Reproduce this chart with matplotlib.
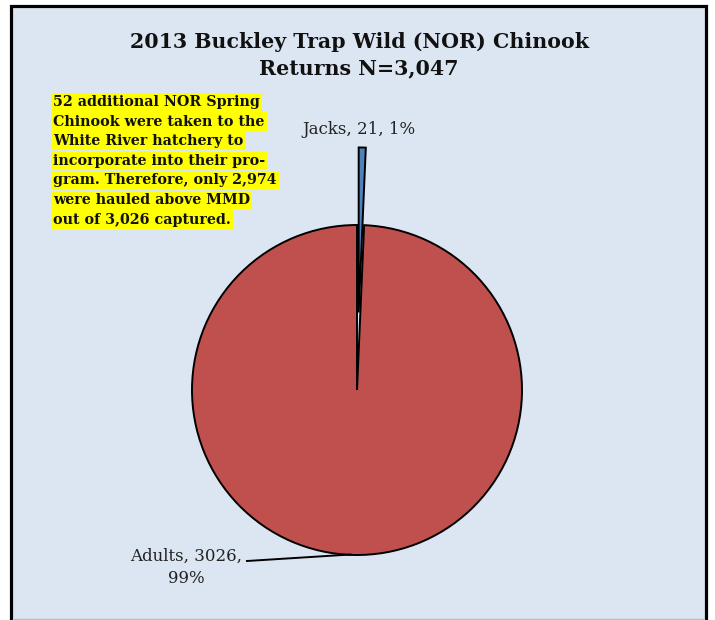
import numpy as np
import matplotlib.pyplot as plt
from matplotlib.patches import Rectangle
from matplotlib.lines import Line2D

categories = ["Jacks", "Adults"]
counts = [21, 3026]
colors = ["#4f81bd", "#c0504d"]
explode = [0.47, 0.0]
title = "2013 Buckley Trap Wild (NOR) Chinook\nReturns N=3,047"
note_lines = [
    "52 additional NOR Spring",
    "Chinook were taken to the",
    "White River hatchery to",
    "incorporate into their pro-",
    "gram. Therefore, only 2,974",
    "were hauled above MMD",
    "out of 3,026 captured.",
]

W, H = 715, 620
bg = "#dce6f2"
fig = plt.figure(figsize=(W / 100, H / 100), dpi=100)
fig.patch.set_facecolor("white")


def px(x, y):
    # pixel coords (top-left origin) -> figure fraction
    return x / W, 1 - y / H


# chart area with black border (no bottom border visible)
x0, y0 = px(11.5, 5.5)
x1, y1 = px(705.5, 660)
fig.patches.append(Rectangle((x0, y1), x1 - x0, y0 - y1, transform=fig.transFigure,
                             facecolor=bg, edgecolor="black", linewidth=2.3, zorder=-10))
fig.lines.append(Line2D([px(13, 0)[0], px(704, 0)[0]], [px(0, 618.5)[1]] * 2,
                        transform=fig.transFigure, color="#b8bfc8", linewidth=1, zorder=-9))

# axes mapped so 1 data unit = radius (165 px), pie centre at (357, 390)
R = 165.0
cx, cy = 357.0, 390.0
ax = fig.add_axes([0, 0, 1, 1])
ax.set_zorder(5)
wedges, _ = ax.pie(counts, colors=colors, explode=explode, startangle=90,
                   counterclock=False, radius=1.0,
                   wedgeprops=dict(edgecolor="black", linewidth=1.4))
ax.set_xlim(-cx / R, (W - cx) / R)
ax.set_ylim(-(H - cy) / R, cy / R)
ax.set_facecolor("none")
ax.axis("off")

total = sum(counts)
labels = [f"{c}, {v}, {round(100 * v / total):.0f}%" for c, v in zip(categories, counts)]

serif = ["DejaVu Serif"]
# Jacks label above the exploded slice
ax.text(0.01, (cy - 130) / R, labels[0], ha="center", va="center", fontsize=12,
        family=serif, color="#222222")
# Adults label with leader line
ax.text((242 - cx) / R, (cy - 567) / R, "Adults, 3026,\n99%", ha="right", va="center",
        fontsize=12, family=serif, color="#222222", multialignment="center",
        linespacing=1.4)
ax.plot([(247 - cx) / R, -0.04], [(cy - 561) / R, -0.997], color="black", linewidth=1.4)

fig.text(px(359, 0)[0], px(0, 32)[1], title, ha="center", va="top", fontsize=14.8,
         fontweight="bold", family=serif, color="#111111", linespacing=1.38)

for i, line in enumerate(note_lines):
    tx, ty = px(53, 95 + i * 19.6)
    fig.text(tx, ty, line, ha="left", va="top", fontsize=10.3, fontweight="bold",
             family=serif, color="#111111",
             bbox=dict(facecolor="#ffff00", edgecolor="none", pad=1.6))

fig.savefig("out.png", dpi=100, facecolor="white")
